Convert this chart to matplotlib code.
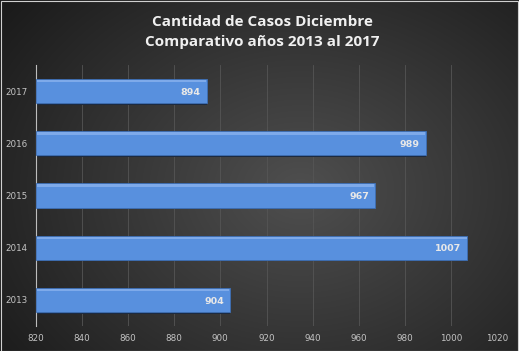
import numpy as np
import matplotlib.pyplot as plt

# datos
years = ["2013", "2014", "2015", "2016", "2017"]
casos = [904, 1007, 967, 989, 894]
xticks = list(range(820, 1021, 20))

fig = plt.figure(figsize=(5.19, 3.51), dpi=100)

# fondo con degradado radial
bg = fig.add_axes([0, 0, 1, 1])
yy, xx = np.mgrid[0:351, 0:519]
r = np.sqrt(((xx - 300) / 330.0) ** 2 + ((yy - 190) / 260.0) ** 2)
shade = np.clip(0.31 - 0.18 * r, 0.10, 0.31)
bg.imshow(np.dstack([shade] * 3), aspect="auto", extent=[0, 1, 0, 1])
bg.set_axis_off()
fig.patches.append(plt.Rectangle((0.001, 0.001), 0.997, 0.997, transform=fig.transFigure,
                                 fill=False, edgecolor="#d0d0d0", linewidth=0.8))

ax = fig.add_axes([0.069, 0.071, 0.889, 0.744])
ax.set_facecolor("none")

ypos = np.arange(len(years))
h = 0.46
# sombra
ax.barh(ypos - 0.03, [c - 820 for c in casos], height=h, left=820, color="#1c2a40", zorder=2)
# barra principal
ax.barh(ypos, [c - 820 for c in casos], height=h, left=820, color="#5890de",
        edgecolor="#3e6fb5", linewidth=0.6, zorder=3)
# brillo superior
ax.barh(ypos + h / 2 - 0.04, [c - 820 - 0.6 for c in casos], height=0.045, left=820.3,
        color="#7eaaea", zorder=4)

for y, c in zip(ypos, casos):
    ax.text(c - 2.5, y - 0.02, str(c), ha="right", va="center", color="#e8e8e8",
            fontsize=6.8, fontweight="bold", zorder=5)

ax.set_xlim(820, 1020)
ax.set_ylim(-0.5, 4.5)
ax.set_xticks(xticks)
ax.set_yticks(ypos)
ax.set_yticklabels(years)
ax.tick_params(axis="both", colors="#c4c4c4", labelsize=6.3, length=0)
ax.tick_params(axis="x", pad=6)
ax.tick_params(axis="y", pad=6)
ax.grid(axis="x", color="#555555", linewidth=0.6, zorder=0)
ax.set_axisbelow(True)
for s in ["top", "right", "bottom"]:
    ax.spines[s].set_visible(False)
ax.spines["left"].set_color("#bdbdbd")
ax.spines["left"].set_linewidth(0.8)

fig.text(0.505, 0.909, "Cantidad de Casos Diciembre\nComparativo años 2013 al 2017",
         ha="center", va="center", color="#f0f0f0", fontsize=11, fontweight="bold",
         family="Open Sans", linespacing=1.55)

fig.savefig("out.png", dpi=100)
